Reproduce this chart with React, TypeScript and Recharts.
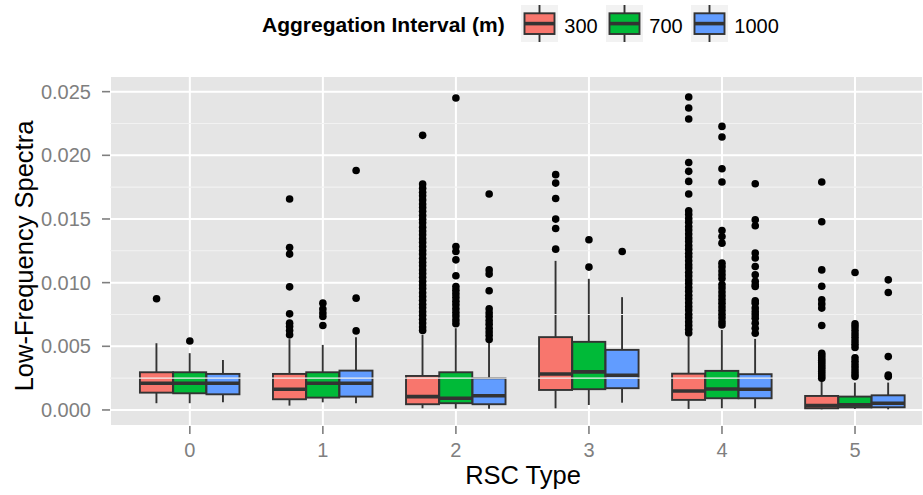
import React from 'react';
import { ComposedChart, Bar, Scatter, XAxis, YAxis, CartesianGrid, ReferenceLine } from 'recharts';

// ---------- data ----------
const categories = ['0', '1', '2', '3', '4', '5'];
const groups = ['300', '700', '1000'];
const legendTitle = 'Aggregation Interval (m)';
const yTicks = [0, 0.005, 0.01, 0.015, 0.02, 0.025];
const yMinorTicks = [0.0025, 0.0075, 0.0125, 0.0175, 0.0225];

// per category: [lower whisker, Q1, median, Q3, upper whisker]
const stats300 = [
  [0.00053, 0.00136, 0.0021, 0.00296, 0.00524],
  [0.00034, 0.00084, 0.00163, 0.00283, 0.00556],
  [0.00013, 0.00045, 0.00105, 0.00267, 0.0059],
  [0.00013, 0.00157, 0.00283, 0.00572, 0.01171],
  [0.00008, 0.00079, 0.00149, 0.00285, 0.00576],
  [0.00005, 0.00013, 0.00034, 0.0011, 0.00223],
];
const stats700 = [
  [0.00053, 0.00131, 0.0021, 0.00296, 0.00446],
  [0.0006, 0.00097, 0.0021, 0.00296, 0.00511],
  [0.0001, 0.00053, 0.00092, 0.00296, 0.00642],
  [0.00039, 0.00163, 0.00299, 0.00535, 0.0103],
  [0.00013, 0.00092, 0.00165, 0.00307, 0.00629],
  [0.00008, 0.0002, 0.0004, 0.00105, 0.00215],
];
const stats1000 = [
  [0.0006, 0.00123, 0.0021, 0.00283, 0.00393],
  [0.00053, 0.00105, 0.0021, 0.00309, 0.00572],
  [0.0001, 0.00045, 0.00112, 0.00249, 0.00537],
  [0.00057, 0.00171, 0.00273, 0.00472, 0.00886],
  [0.00013, 0.00092, 0.00163, 0.00281, 0.00558],
  [0.00005, 0.00021, 0.00053, 0.00115, 0.00215],
];

const outliers300 = [
  [0.00873],
  [0.01657, 0.01276, 0.01224, 0.00967, 0.00755, 0.00682, 0.00655, 0.00624, 0.0059],
  [0.02157, 0.01775, 0.01742, 0.0171, 0.01683, 0.0165, 0.01618, 0.0159, 0.01561, 0.01528, 0.01497, 0.0147,
    0.01436, 0.01405, 0.01377, 0.01344, 0.01316, 0.01283, 0.01252, 0.01224, 0.01192, 0.01161, 0.01133, 0.011,
    0.01071, 0.01042, 0.0101, 0.00981, 0.00953, 0.0092, 0.00891, 0.00862, 0.0083, 0.00802, 0.00771, 0.00744,
    0.00712, 0.00683, 0.00652, 0.00625],
  [0.01848, 0.01782, 0.01661, 0.01499, 0.01425, 0.01263],
  [0.02458, 0.02372, 0.02285, 0.01944, 0.01874, 0.01795, 0.01696, 0.01564, 0.01536, 0.01503, 0.01475, 0.01441,
    0.01414, 0.01382, 0.01351, 0.01324, 0.01292, 0.01263, 0.01231, 0.01203, 0.01172, 0.01141, 0.01114, 0.01082,
    0.01053, 0.01021, 0.00994, 0.00962, 0.00933, 0.00901, 0.00874, 0.00842, 0.00813, 0.00785, 0.00752, 0.00724,
    0.00693, 0.00664, 0.00633, 0.00605],
  [0.0179, 0.01478, 0.011, 0.00972, 0.00865, 0.00833, 0.008, 0.00663, 0.00445, 0.00428, 0.00409, 0.00391,
    0.00373, 0.00356, 0.00338, 0.00321, 0.00302, 0.00284, 0.00267, 0.00249],
];
const outliers700 = [
  [0.00542],
  [0.00839, 0.00792, 0.00762, 0.00734, 0.00663],
  [0.0245, 0.01284, 0.01245, 0.01179, 0.01054, 0.00969, 0.00941, 0.00912, 0.00884, 0.00853, 0.00826, 0.00794,
    0.00765, 0.00737, 0.00706, 0.00678],
  [0.01337, 0.01122],
  [0.02227, 0.02144, 0.01895, 0.0179, 0.0141, 0.01362, 0.0131, 0.01153, 0.01124, 0.01092, 0.01061, 0.01033,
    0.00985, 0.00957, 0.00926, 0.00897, 0.00868, 0.00839, 0.00808, 0.00781, 0.00752, 0.00724, 0.00693, 0.00668],
  [0.0108, 0.00676, 0.00651, 0.00624, 0.00597, 0.0057, 0.00542, 0.00516, 0.00491, 0.0041, 0.00383, 0.00356,
    0.00331, 0.00306, 0.00283, 0.00262],
];
const outliers1000 = [
  [],
  [0.01881, 0.00878, 0.00621],
  [0.01696, 0.011, 0.01067, 0.00936, 0.00794, 0.00763, 0.00735, 0.00703, 0.00674, 0.00642, 0.00613, 0.00584, 0.00553],
  [0.01245],
  [0.01777, 0.01494, 0.01447, 0.01232, 0.01193, 0.01127, 0.01061, 0.0101, 0.00983, 0.0097, 0.00857, 0.00839, 0.008,
    0.00772, 0.00747, 0.00721, 0.00682, 0.00642, 0.00603],
  [0.01022, 0.00922, 0.00419, 0.00275, 0.00262],
];

// ---------- styling / layout ----------
const groupColors = ['#F8766D', '#00BA38', '#619CFF'];
const dodgeOffsets = [-0.25, 0, 0.25];
const FONT = '"Liberation Sans", Arial, Helvetica, sans-serif';
const OUTLINE = '#333333';
const LINE_W = 1.9;
const MEDIAN_W = 3.6;

const allStats = [stats300, stats700, stats1000];
const allOutliers = [outliers300, outliers700, outliers1000];

const boxData: any[] = [];
const outlierData: any[] = [];
groups.forEach((g, gi) => {
  categories.forEach((c, ci) => {
    const [lo, q1, med, q3, hi] = allStats[gi][ci];
    const x = ci + dodgeOffsets[gi];
    boxData.push({ x, range: [lo, hi], lo, q1, med, q3, hi, gi });
    allOutliers[gi][ci].forEach((v) => outlierData.push({ x, y: v, gi }));
  });
});

const BoxShape = (props: any) => {
  const { x, y, width, height } = props;
  const p = props.payload || props;
  const { lo, hi, q1, med, q3, gi } = p;
  if (x == null || y == null) return null;
  const toPx = (v: number) => y + (height * (hi - v)) / (hi - lo);
  const cx = x + width / 2;
  return (
    <g>
      <line x1={cx} x2={cx} y1={toPx(hi)} y2={toPx(q3)} stroke={OUTLINE} strokeWidth={LINE_W} />
      <line x1={cx} x2={cx} y1={toPx(q1)} y2={toPx(lo)} stroke={OUTLINE} strokeWidth={LINE_W} />
      <rect
        x={x}
        y={toPx(q3)}
        width={width}
        height={toPx(q1) - toPx(q3)}
        fill={groupColors[gi]}
        stroke={OUTLINE}
        strokeWidth={LINE_W}
      />
      <line x1={x} x2={x + width} y1={toPx(med)} y2={toPx(med)} stroke={OUTLINE} strokeWidth={MEDIAN_W} />
    </g>
  );
};

const OutlierDot = (props: any) => {
  const { cx, cy } = props;
  if (cx == null || cy == null) return null;
  return <circle cx={cx} cy={cy} r={3.8} fill="#000000" />;
};

const Legend = () => {
  const keyX = [521, 606, 691];
  return (
    <svg width={923} height={50} style={{ position: 'absolute', left: 0, top: 0 }}>
      <text x={262} y={32} fontFamily={FONT} fontWeight="bold" fontSize={21} fill="#000">
        {legendTitle}
      </text>
      {groups.map((g, i) => {
        const kx = keyX[i];
        return (
          <g key={g}>
            <rect x={kx} y={5} width={37} height={37} fill="#F2F2F2" />
            <line x1={kx + 18.5} x2={kx + 18.5} y1={5} y2={42} stroke={OUTLINE} strokeWidth={LINE_W} />
            <rect x={kx + 3.5} y={13.3} width={30} height={20.7} fill={groupColors[i]} stroke={OUTLINE} strokeWidth={LINE_W} />
            <line x1={kx + 3.5} x2={kx + 33.5} y1={23.6} y2={23.6} stroke={OUTLINE} strokeWidth={MEDIAN_W} />
            <text x={kx + 43.3} y={32.7} fontFamily={FONT} fontSize={20} fill="#000">
              {g}
            </text>
          </g>
        );
      })}
    </svg>
  );
};

const Titles = () => (
  <svg width={923} height={495} style={{ position: 'absolute', left: 0, top: 0, pointerEvents: 'none' }}>
    <text x={523} y={484.3} textAnchor="middle" fontFamily={FONT} fontSize={25.5} fill="#000">
      RSC Type
    </text>
    <text
      x={33.3}
      y={256}
      textAnchor="middle"
      transform="rotate(-90, 33.3, 256)"
      fontFamily={FONT}
      fontSize={25.5}
      fill="#000"
    >
      Low-Frequency Spectra
    </text>
  </svg>
);

export default function App() {
  return (
    <div style={{ position: 'absolute', left: 0, top: 0, width: 923, height: 495, background: '#fff', overflow: 'hidden' }}>
      <ComposedChart
        width={923}
        height={495}
        data={boxData}
        margin={{ top: 76, right: 0, bottom: 0, left: 0 }}
      >
        <CartesianGrid fill="#E5E5E5" fillOpacity={1} stroke="#FFFFFF" strokeWidth={2} />
        {yMinorTicks.map((v) => (
          <ReferenceLine key={v} y={v} stroke="#F2F2F2" strokeWidth={1.1} />
        ))}
        <XAxis
          dataKey="x"
          type="number"
          domain={[-0.6, 5.511]}
          allowDataOverflow
          ticks={[0, 1, 2, 3, 4, 5]}
          interval={0}
          tickFormatter={(v: number) => categories[v]}
          height={69}
          axisLine={false}
          tickSize={8}
          tickMargin={9}
          tickLine={{ stroke: '#7F7F7F', strokeWidth: 1.6 }}
          tick={{ fill: '#7F7F7F', fontSize: 20, fontFamily: FONT }}
        />
        <YAxis
          type="number"
          domain={[-0.00126, 0.02623]}
          allowDataOverflow
          ticks={yTicks}
          interval={0}
          tickFormatter={(v: number) => v.toFixed(3)}
          width={110}
          axisLine={false}
          tickSize={8}
          tickMargin={11}
          tickLine={{ stroke: '#7F7F7F', strokeWidth: 1.6 }}
          tick={{ fill: '#7F7F7F', fontSize: 20, fontFamily: FONT }}
        />
        <Bar dataKey="range" barSize={33} shape={BoxShape} isAnimationActive={false} />
        <Scatter data={outlierData} dataKey="y" shape={OutlierDot} isAnimationActive={false} />
      </ComposedChart>
      <Legend />
      <Titles />
    </div>
  );
}
